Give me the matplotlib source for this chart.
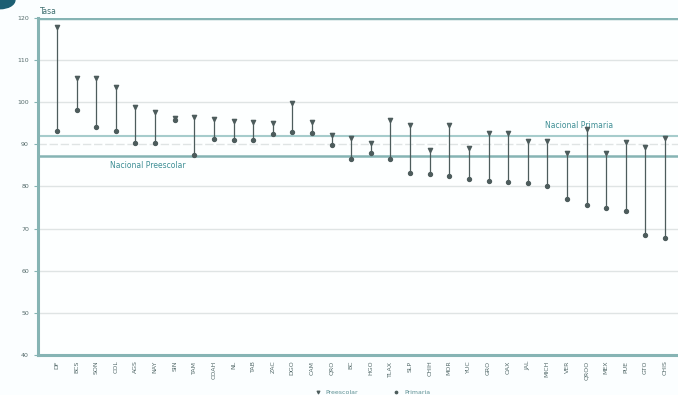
import numpy as np
import matplotlib
matplotlib.use("Agg")
import matplotlib.pyplot as plt
from matplotlib.patches import Circle

# data
states = ['DF', 'BCS', 'SON', 'COL', 'AGS', 'NAY', 'SIN', 'TAM', 'COAH', 'NL',
          'TAB', 'ZAC', 'DGO', 'CAM', 'QRO', 'BC', 'HGO', 'TLAX', 'SLP', 'CHIH',
          'MOR', 'YUC', 'GRO', 'OAX', 'JAL', 'MICH', 'VER', 'QROO', 'MEX', 'PUE',
          'GTO', 'CHIS']
upper = [117.9, 105.8, 105.8, 103.6, 98.9, 97.7, 96.2, 96.5, 96.0, 95.5,
         95.3, 95.1, 99.8, 95.3, 92.2, 91.5, 90.3, 95.8, 94.6, 88.7,
         94.6, 89.1, 92.6, 92.7, 90.8, 90.8, 88.0, 93.7, 88.0, 90.6,
         89.4, 91.5]
lower = [93.2, 98.2, 94.1, 93.2, 90.3, 90.3, 95.8, 87.5, 91.3, 91.1,
         91.0, 92.4, 92.9, 92.7, 89.9, 86.5, 88.0, 86.5, 83.2, 83.0,
         82.5, 81.8, 81.4, 81.1, 80.8, 80.1, 77.0, 75.6, 74.9, 74.2,
         68.5, 67.8]
nat_primaria = 92.0
nat_preescolar = 87.2

teal = '#86b4b4'
dark = '#4d5c5c'
grid_c = '#dfe4e4'

fig = plt.figure(figsize=(6.78, 3.95), dpi=100)
fig.patch.set_facecolor('#fbfeff')
ax = fig.add_axes([0.056, 0.1013, 0.944, 0.8531])
ax.set_facecolor('#fdffff')

x = np.arange(len(states))

# grid
for v in range(50, 120, 10):
    ax.axhline(v, color=grid_c, lw=1.0, ls=(0, (6, 2)) if v == 90 else '-', zorder=1)
ax.axhline(120, color=teal, lw=2.5, zorder=2)

# reference lines
ax.axhline(nat_primaria, color='#a6cccc', lw=1.5, zorder=2)
ax.axhline(nat_preescolar, color=teal, lw=1.8, zorder=2)
ax.text(2.7, nat_preescolar - 1.2, 'Nacional Preescolar', fontsize=5.5,
        color='#3f8f95', va='top', ha='left')
ax.text(24.9, nat_primaria + 1.3, 'Nacional Primaria', fontsize=5.5,
        color='#3f8f95', va='bottom', ha='left')

# dumbbells
ax.vlines(x, lower, upper, color=dark, lw=0.9, zorder=3)
ax.scatter(x, upper, marker='v', s=9, color=dark, zorder=4, label='Preescolar')
ax.scatter(x, lower, marker='o', s=8, color=dark, zorder=4, label='Primaria')

ax.set_xlim(-0.97, 31.66)
ax.set_ylim(40, 120)
ax.set_yticks(range(40, 121, 10))
ax.set_xticks(x)
ax.set_xticklabels(states, rotation=90, fontsize=4.5, color='#556b6b')
ax.tick_params(axis='y', labelsize=4.5, colors='#556b6b', length=3, color=teal)
ax.tick_params(axis='x', length=0, pad=4)

for s in ['top', 'right']:
    ax.spines[s].set_visible(False)
for s in ['left', 'bottom']:
    ax.spines[s].set_color(teal)
    ax.spines[s].set_linewidth(2.2)

ax.text(-0.85, 120.5, 'Tasa', fontsize=5.5, color='#3f6f70', va='bottom', ha='left')

ax.legend(loc='upper center', bbox_to_anchor=(0.52, -0.085), ncol=2, frameon=False,
          fontsize=4.5, labelcolor='#5c8f92', handletextpad=0.3, columnspacing=5,
          markerscale=0.6)

# corner decoration
fig.patches.append(Circle((0.0, 1.0), 0.022, transform=fig.transFigure,
                          color='#1d5f73', zorder=10))

fig.savefig('out.png', dpi=100)
